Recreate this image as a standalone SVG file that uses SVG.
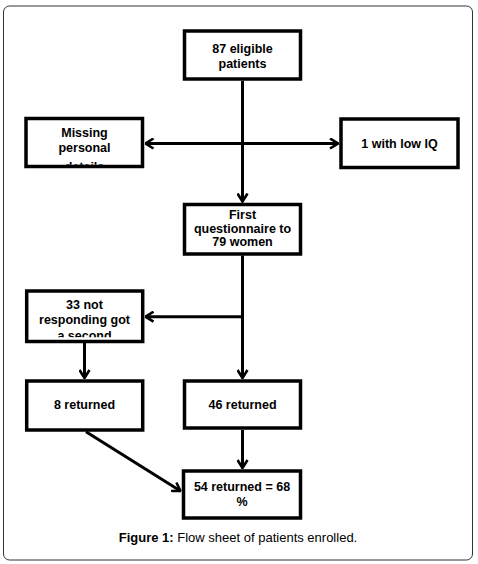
<svg xmlns="http://www.w3.org/2000/svg" width="478" height="564" viewBox="0 0 478 564">
<style>
.box{fill:#fff;stroke:#000;stroke-width:3.5}
.t{font-family:"Liberation Sans",Arial,sans-serif;font-weight:bold;font-size:12.5px;text-anchor:middle;fill:#000}
.c{stroke:#000;stroke-width:3;fill:none}
.cap{font-family:"Liberation Sans",Arial,sans-serif;font-size:13px;text-anchor:middle;fill:#000}
</style>
<defs>
<marker id="ah" viewBox="0 0 10 12" refX="9" refY="6" markerWidth="10" markerHeight="12" markerUnits="userSpaceOnUse" orient="auto-start-reverse">
<path d="M1,1 L9,6 L1,11" fill="none" stroke="#000" stroke-width="2.6"/>
</marker>
<clipPath id="cMiss"><rect x="27.75" y="120.25" width="113" height="44.5"/></clipPath>
<clipPath id="c33"><rect x="28.45" y="292.75" width="112.5" height="44.5"/></clipPath>
</defs>
<rect x="3.5" y="6" width="469" height="554" rx="6" fill="#fff" stroke="#333" stroke-width="1"/>
<g id="connectors">
<line class="c" x1="242.5" y1="81" x2="242.5" y2="201.5" marker-end="url(#ah)"/>
<line class="c" x1="145.5" y1="143.5" x2="338" y2="143.5" marker-start="url(#ah)" marker-end="url(#ah)"/>
<line class="c" x1="242.5" y1="255.5" x2="242.5" y2="378" marker-end="url(#ah)"/>
<line class="c" x1="242.5" y1="316.7" x2="145.5" y2="316.7" marker-end="url(#ah)"/>
<line class="c" x1="84.5" y1="343" x2="84.5" y2="378" marker-end="url(#ah)"/>
<line class="c" x1="242.5" y1="430" x2="242.5" y2="468" marker-end="url(#ah)"/>
<line class="c" x1="86" y1="431.7" x2="180.5" y2="491" marker-end="url(#ah)"/>
</g>
<g id="n1">
<rect class="box" x="184.5" y="31" width="116" height="48"/>
<text class="t" x="242.5" y="52.5">87 eligible</text>
<text class="t" x="242.5" y="68">patients</text>
</g>
<g id="n2">
<rect class="box" x="26" y="118.5" width="116.5" height="48"/>
<g clip-path="url(#cMiss)">
<text class="t" x="84.5" y="136.5">Missing</text>
<text class="t" x="84.5" y="152">personal</text>
<text class="t" x="84.5" y="170.5">details</text>
</g>
</g>
<g id="n3">
<rect class="box" x="341" y="119" width="117" height="48.5"/>
<text class="t" x="399.5" y="148">1 with low IQ</text>
</g>
<g id="n4">
<rect class="box" x="184.5" y="204.5" width="116" height="49.5"/>
<text class="t" x="242.5" y="219.3">First</text>
<text class="t" x="242.5" y="232.5">questionnaire to</text>
<text class="t" x="242.5" y="245.5">79 women</text>
</g>
<g id="n5">
<rect class="box" x="26.7" y="291" width="116" height="50.5"/>
<g clip-path="url(#c33)">
<text class="t" x="84.5" y="309">33 not</text>
<text class="t" x="84.5" y="323.7">responding got</text>
<text class="t" x="84.5" y="339.5">a second</text>
</g>
</g>
<g id="n6">
<rect class="box" x="26.7" y="381" width="116" height="49"/>
<text class="t" x="84.5" y="409.3">8 returned</text>
</g>
<g id="n7">
<rect class="box" x="184.5" y="381" width="116" height="47"/>
<text class="t" x="242.5" y="409">46 returned</text>
</g>
<g id="n8">
<rect class="box" x="183.5" y="471" width="117" height="47"/>
<text class="t" x="242" y="491">54 returned = 68</text>
<text class="t" x="242" y="505.7">%</text>
</g>
<text class="cap" x="238" y="541.5"><tspan font-weight="bold">Figure 1:</tspan> Flow sheet of patients enrolled.</text>
</svg>
